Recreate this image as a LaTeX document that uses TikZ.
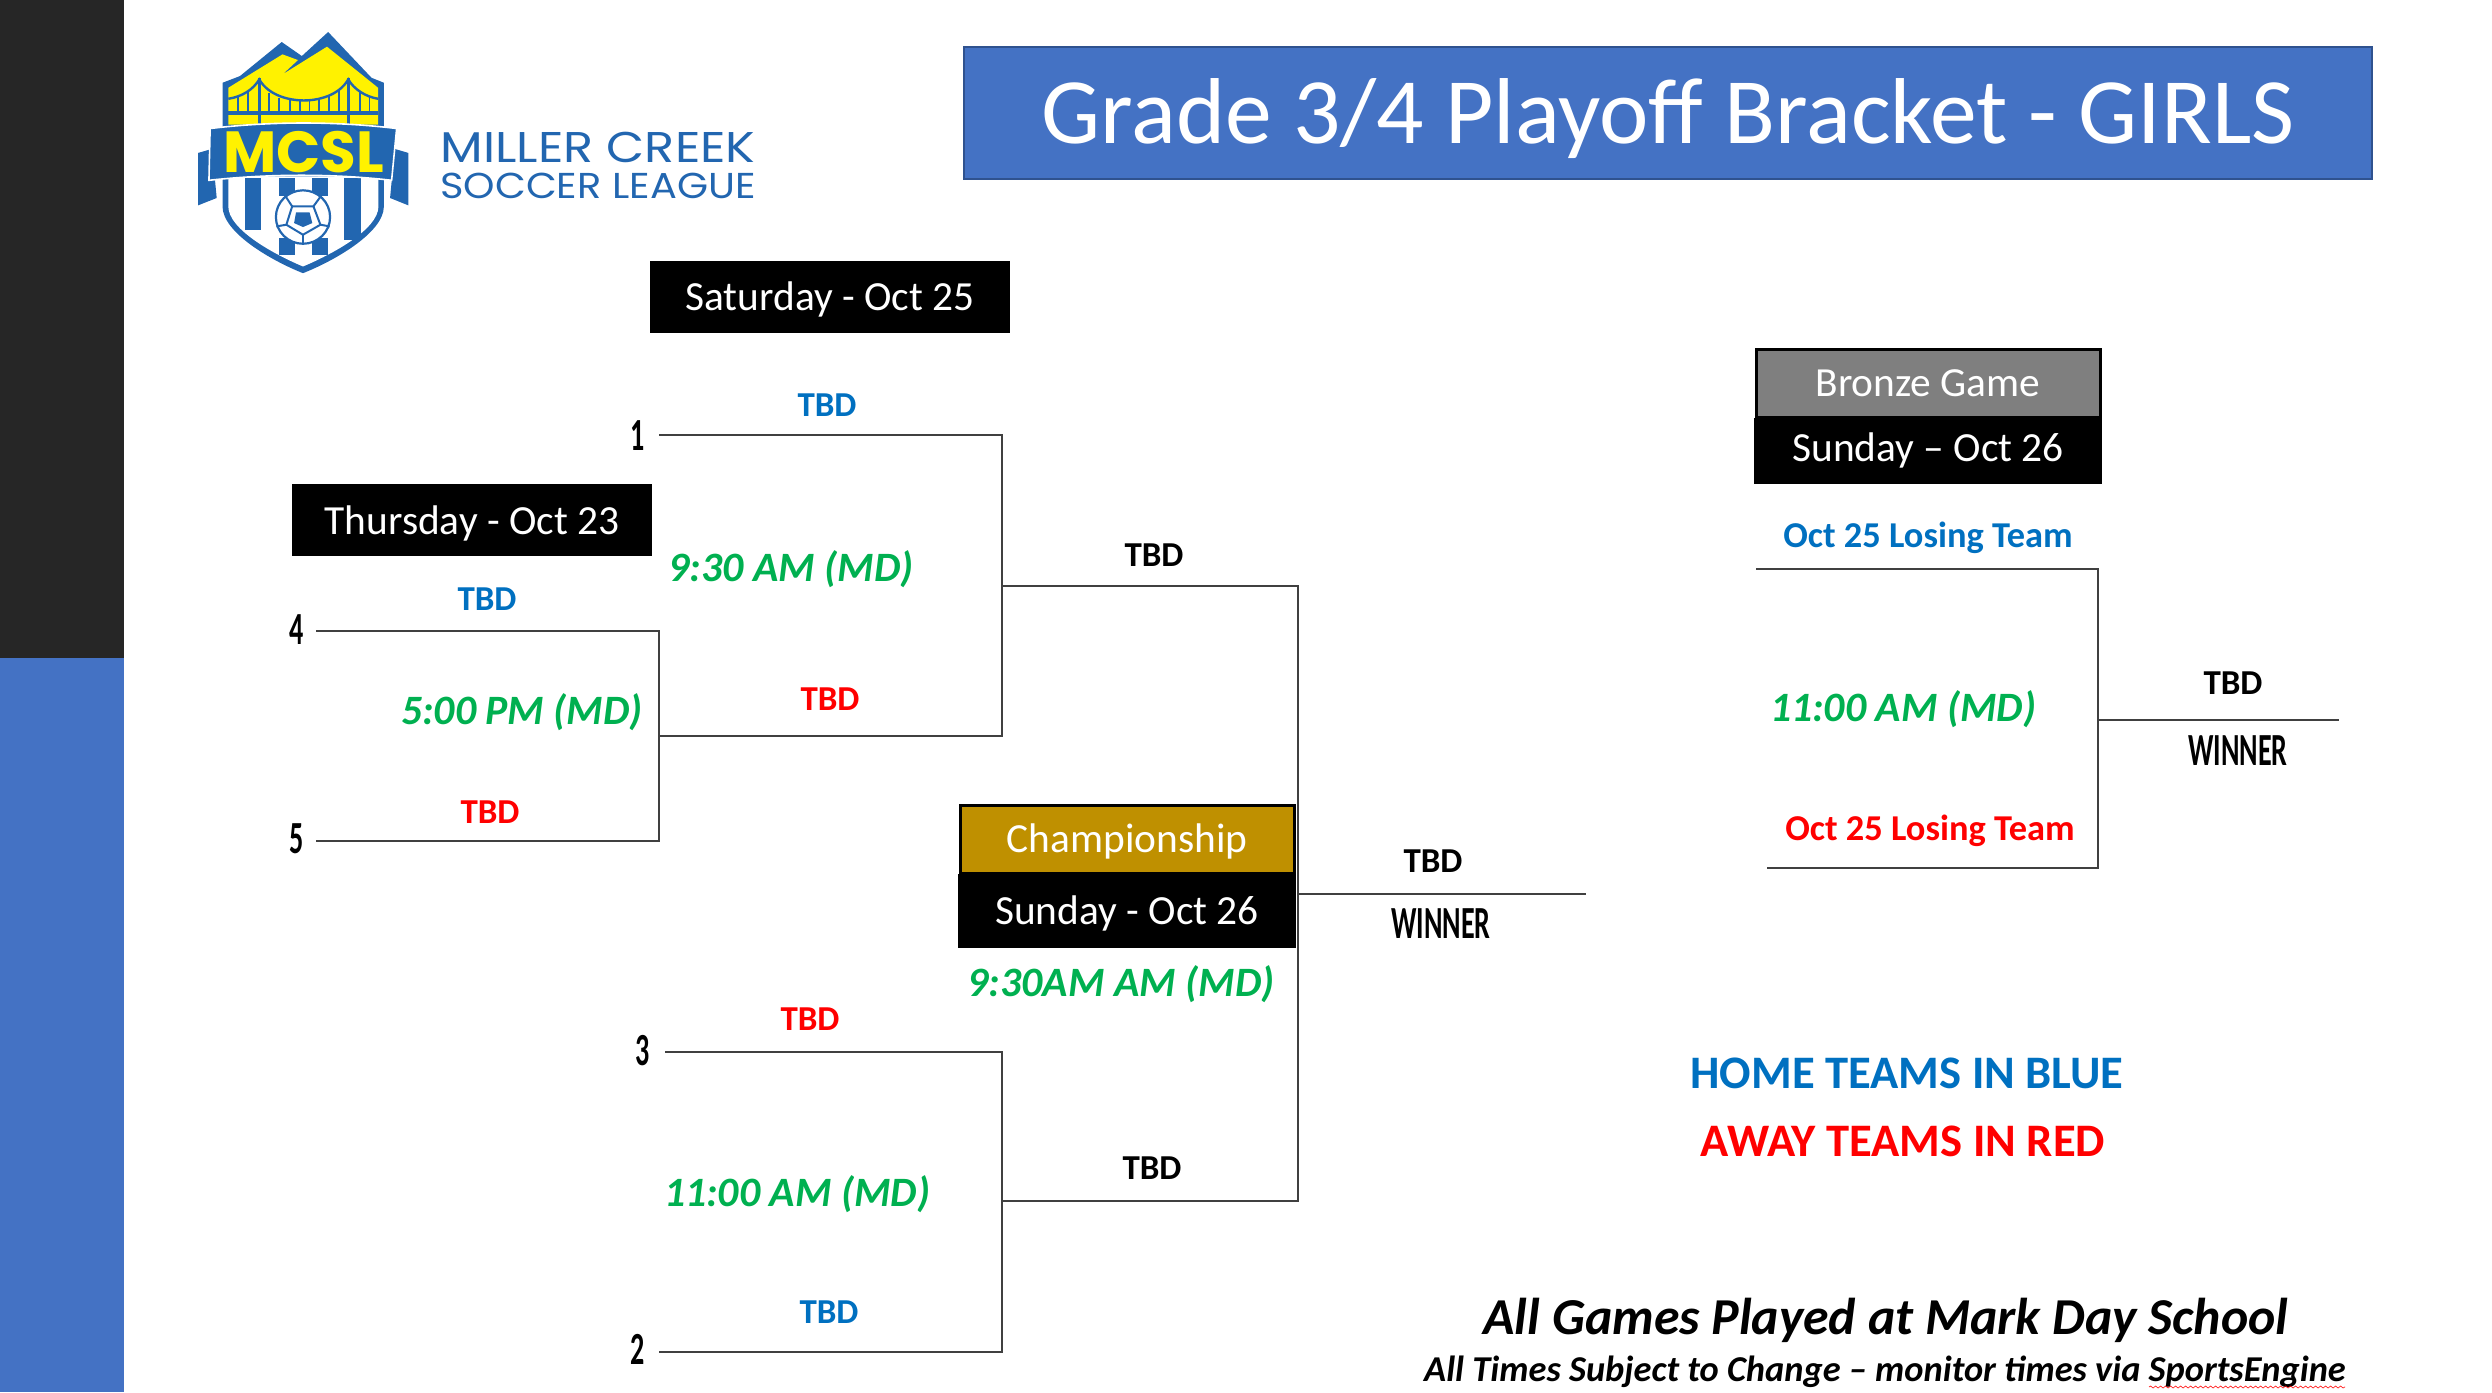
\documentclass[tikz,border=0pt]{standalone}
\usepackage{fontspec}
\setmainfont{Carlito}
\newfontfamily\logofont{Poppins}
\usetikzlibrary{decorations.pathmorphing}
\definecolor{slideblue}{HTML}{4472C4}
\definecolor{slidedark}{HTML}{262626}
\definecolor{titleedge}{HTML}{2F528F}
\definecolor{homeblue}{HTML}{0070C0}
\definecolor{timegreen}{HTML}{00B050}
\definecolor{champgold}{HTML}{BF9000}
\definecolor{bronzegray}{HTML}{7F7F7F}
\definecolor{logoblue}{HTML}{2266B0}
\definecolor{logoyellow}{HTML}{FFF200}
\newcommand{\fsz}[1]{\fontsize{#1}{#1}\selectfont}
\newcommand{\narrowtxt}[1]{\scalebox{0.61}[1]{#1}}
\tikzset{brkline/.style={draw=black!75,line width=1.2pt,line join=miter},
         brkbox/.style={fill=black,text=white,inner sep=0pt,text height=16.2pt,text depth=3pt,font=\fsz{20.7}},
         brkteam/.style={inner sep=0pt,font=\fsz{17.5}\bfseries},
         brklose/.style={inner sep=0pt,font=\fsz{18.2}\bfseries},
         brktime/.style={inner sep=0pt,text=timegreen,font=\fsz{20.9}\bfseries\itshape},
         brkseed/.style={inner sep=0pt,font=\fsz{23}\bfseries},
         brkwin/.style={inner sep=0pt,font=\fsz{23}\bfseries}}

\begin{document}
\begin{tikzpicture}[x=0.5pt,y=-0.5pt]
  \useasboundingbox (0,0) rectangle (2492,1392);
  % side band
  \fill[slidedark] (0,0) rectangle (124,658);
  \fill[slideblue] (0,658) rectangle (124,1392);
  % title
  \node[fill=slideblue,draw=titleedge,line width=1pt,text=white,inner sep=0pt,text height=39pt,text depth=9pt,
        minimum width=704pt,minimum height=66pt,font=\fsz{46.8}] (title) at (1668,113) {Grade 3/4 Playoff Bracket - GIRLS};
  % logo
  \begin{scope}[shift={(178,19.3)},x=0.1935pt,y=-0.167pt]
  \fill[logoblue] (115,190)--(160,170)--(268,68)--(320,110)--(388,38)--(500,175)--(532,190)--(532,560)
     .. controls (532,640) and (400,725) .. (323,760) .. controls (246,725) and (115,640) .. (115,560)--cycle;
  \fill[white] (130,470)--(518,470)--(518,560) .. controls (518,630) and (395,705) .. (323,740)
     .. controls (251,705) and (130,630) .. (130,560)--cycle;
  \fill[logoyellow] (130,205)--(270,105)--(310,122)--(270,165)--(385,82)--(517,205)--(517,315)--(130,315)--cycle;
  % bridge
  \draw[logoblue,line width=1.2pt] (130,238) .. controls (165,232) and (195,210) .. (210,180)
     .. controls (235,230) and (290,243) .. (325,243) .. controls (360,243) and (415,230) .. (440,180)
     .. controls (455,210) and (485,232) .. (517,238);
  \foreach \hx/\hy in {155/230,180/215,235/220,262/235,290/242,315/244,340/244,365/240,390/230,415/215,470/215,495/230}
     \draw[logoblue,line width=0.9pt] (\hx,\hy)--(\hx,278);
  \draw[logoblue,line width=1.6pt] (210,175)--(210,315);
  \draw[logoblue,line width=1.6pt] (440,175)--(440,315);
  \fill[logoblue] (130,276) rectangle (517,288);
  % stripes
  \foreach \sx/\sa/\sb in {172/475/630,430/475/660,260/475/530,345/475/530,260/655/705,345/655/705}
     \fill[logoblue] (\sx,\sa) rectangle (\sx+43,\sb);
  % ball
  \draw[logoblue,fill=white,line width=1.1pt] (323,592) ellipse (70 and 80);
  \fill[logoblue] (305,578)--(340,578)--(347,610)--(323,622)--(300,610)--cycle;
  \draw[logoblue,line width=1pt] (295,560)--(350,560)--(368,615)--(323,645)--(280,615)--cycle;
  \foreach \bx/\by/\cx/\cy in {295/560/275/525,350/560/372/525,368/615/392/620,323/645/323/672,280/615/254/620}
     \draw[logoblue,line width=1pt] (\bx,\by)--(\cx,\cy);
  % ribbon
  \fill[logoblue] (52,400)--(88,388)--(100,535)--(52,557)--cycle;
  \fill[logoblue] (595,400)--(560,388)--(548,535)--(595,557)--cycle;
  \draw[white,fill=logoblue,line width=0.8pt] (83,327) .. controls (240,305) and (410,305) .. (565,327)
     --(552,482) .. controls (400,462) and (240,462) .. (80,482)--cycle;
  \node[text=logoyellow,inner sep=0pt,font=\logofont\fsz{29}\bfseries] (mcsl) at (325,396) {MCSL};
  \end{scope}
  \node[text=logoblue,inner sep=0pt,font=\logofont\fsz{21.5}] (miller) at (598,147) {\scalebox{1.15}[1]{MILLER CREEK}};
  \node[text=logoblue,inner sep=0pt,font=\logofont\fsz{18}] (soccer) at (598,186) {\scalebox{1.11}[1]{SOCCER LEAGUE}};
  % date boxes
  \node[brkbox,minimum width=180pt,minimum height=36pt] (sat) at (830,297) {Saturday - Oct 25};
  \node[brkbox,text height=17.2pt,minimum width=180pt,minimum height=36pt] (thu) at (472,520) {Thursday - Oct 23};
  \node[brkbox,text height=13pt,minimum width=174pt,minimum height=33pt] (bronzeday) at (1928,451) {Sunday -- Oct 26};
  \node[brkbox,fill=bronzegray,draw=black,line width=1.5pt,minimum width=172pt,minimum height=34pt] (bronze) at (1928,383) {Bronze Game};
  \node[brkbox,minimum width=169pt,minimum height=37pt] (champday) at (1127,911) {Sunday - Oct 26};
  \node[brkbox,fill=champgold,draw=black,line width=1.5pt,minimum width=167pt,minimum height=34pt] (champ) at (1127,839) {Championship};
  % bracket corners
  \coordinate (a1) at (659,435); \coordinate (a2) at (1002,435); \coordinate (a3) at (1002,736); \coordinate (a4) at (659,736);
  \coordinate (b1) at (316,631); \coordinate (b2) at (659,631); \coordinate (b3) at (659,841); \coordinate (b4) at (316,841);
  \coordinate (c1) at (665,1052); \coordinate (c2) at (1002,1052); \coordinate (c3) at (1002,1352); \coordinate (c4) at (659,1352);
  \coordinate (d1) at (1002,586); \coordinate (d2) at (1298,586); \coordinate (d3) at (1298,1201); \coordinate (d4) at (1002,1201);
  \coordinate (e1) at (1298,894); \coordinate (e2) at (1586,894);
  \coordinate (f1) at (1756,569); \coordinate (f2) at (2098,569); \coordinate (f3) at (2098,868); \coordinate (f4) at (1767,868);
  \coordinate (g1) at (2098,720); \coordinate (g2) at (2339,720);
  % brackets
  \draw[brkline] (a1)--(a2)--(a3)--(a4);
  \draw[brkline] (b1)--(b2)--(b3)--(b4);
  \draw[brkline] (c1)--(c2)--(c3)--(c4);
  \draw[brkline] (d1)--(d2)--(d3)--(d4);
  \draw[brkline] (e1)--(e2);
  \draw[brkline] (f1)--(f2)--(f3)--(f4);
  \draw[brkline] (g1)--(g2);
  % seeds
  \node[brkseed] (seed1) at (638,436) {\narrowtxt{1}};
  \node[brkseed] (seed4) at (297,630) {\narrowtxt{4}};
  \node[brkseed] (seed5) at (297,839) {\narrowtxt{5}};
  \node[brkseed] (seed3) at (643,1051) {\narrowtxt{3}};
  \node[brkseed] (seed2) at (638,1349) {\narrowtxt{2}};
  % teams
  \node[brkteam,text=homeblue] (t1) at (827,405) {TBD};
  \node[brkteam,text=homeblue] (t2) at (487,599) {TBD};
  \node[brkteam,text=red] (t3) at (830,699) {TBD};
  \node[brkteam,text=red] (t4) at (490,812) {TBD};
  \node[brkteam,text=red] (t5) at (810,1019) {TBD};
  \node[brkteam,text=homeblue] (t6) at (829,1312) {TBD};
  \node[brkteam] (t7) at (1154,555) {TBD};
  \node[brkteam] (t8) at (1152,1168) {TBD};
  \node[brkteam] (t9) at (1433,861) {TBD};
  \node[brkteam] (t10) at (2233,683) {TBD};
  \node[brklose,text=homeblue] (t11) at (1928,538) {Oct 25 Losing Team};
  \node[brklose,text=red] (t12) at (1930,831) {Oct 25 Losing Team};
  \node[brkwin] (win1) at (1441,924) {\narrowtxt{WINNER}};
  \node[brkwin] (win2) at (2238,751) {\narrowtxt{WINNER}};
  % times
  \node[brktime] (time1) at (791,569) {9:30 AM (MD)};
  \node[brktime] (time2) at (522,712) {5:00 PM (MD)};
  \node[brktime] (time3) at (1121,984) {9:30AM AM (MD)};
  \node[brktime] (time4) at (797,1194) {11:00 AM (MD)};
  \node[brktime] (time5) at (1903,709) {11:00 AM (MD)};
  % notes
  \node[inner sep=0pt,text=homeblue,font=\fsz{23.3}\bfseries] (home) at (1907,1073) {HOME TEAMS IN BLUE};
  \node[inner sep=0pt,text=red,font=\fsz{23.3}\bfseries] (away) at (1903,1141) {AWAY TEAMS IN RED};
  \node[inner sep=0pt,font=\fsz{25.9}\bfseries\itshape] (played) at (1886,1320) {All Games Played at Mark Day School};
  \node[inner sep=0pt,font=\fsz{18.2}\bfseries\itshape] (subject) at (1885,1372) {All Times Subject to Change -- monitor times via SportsEngine};
  \coordinate (w1) at (2149,1387); \coordinate (w2) at (2345,1387);
  \draw[red,line width=0.3pt,decorate,decoration={snake,amplitude=0.5pt,segment length=2.5pt}] (w1)--(w2);
\end{tikzpicture}
\end{document}
